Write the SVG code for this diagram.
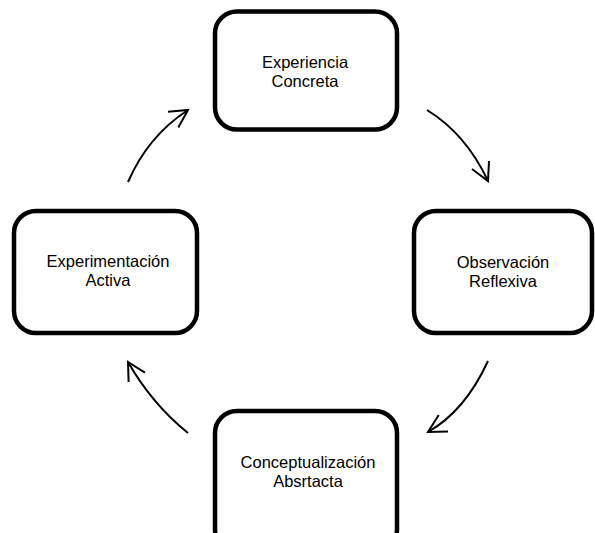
<svg xmlns="http://www.w3.org/2000/svg" width="595" height="533" viewBox="0 0 595 533">
<style>
.box{fill:#fff;stroke:#000;stroke-width:4.5}
.lbl{font-family:"Liberation Sans",Arial,sans-serif;font-size:16.5px;fill:#000;text-anchor:middle}
.arc{fill:none;stroke:#000;stroke-width:2}
</style>
<defs>
<marker id="ah" markerUnits="userSpaceOnUse" viewBox="0 0 22 22" markerWidth="22" markerHeight="22" refX="19" refY="11" orient="auto">
<path d="M1.3,1.6 L19,11 L1.3,20.4" fill="none" stroke="#000" stroke-width="2"/>
</marker>
</defs>
<rect width="595" height="533" fill="#fff"/>
<g id="experiencia-concreta">
<rect class="box" x="215" y="11.5" width="182" height="118" rx="22"/>
<text class="lbl" x="305" y="67.5">Experiencia</text>
<text class="lbl" x="305" y="86.5">Concreta</text>
</g>
<g id="observacion-reflexiva">
<rect class="box" x="414" y="211" width="178" height="122" rx="22"/>
<text class="lbl" x="503" y="267.5">Observación</text>
<text class="lbl" x="503" y="286.5">Reflexiva</text>
</g>
<g id="experimentacion-activa">
<rect class="box" x="14" y="211" width="183" height="122" rx="22"/>
<text class="lbl" x="108" y="266.5">Experimentación</text>
<text class="lbl" x="108" y="285.5">Activa</text>
</g>
<g id="conceptualizacion-abstracta">
<rect class="box" x="215" y="411" width="182" height="140" rx="22"/>
<text class="lbl" x="308" y="467.5">Conceptualización</text>
<text class="lbl" x="308" y="486.5">Absrtacta</text>
</g>
<g id="connectors">
<path class="arc" d="M128,182 Q148,136 188,110" marker-end="url(#ah)"/>
<path class="arc" d="M427,110 Q466,134 488,181" marker-end="url(#ah)"/>
<path class="arc" d="M488,361 Q465,411 428,432" marker-end="url(#ah)"/>
<path class="arc" d="M188,433 Q152,404 128,362" marker-end="url(#ah)"/>
</g>
</svg>
